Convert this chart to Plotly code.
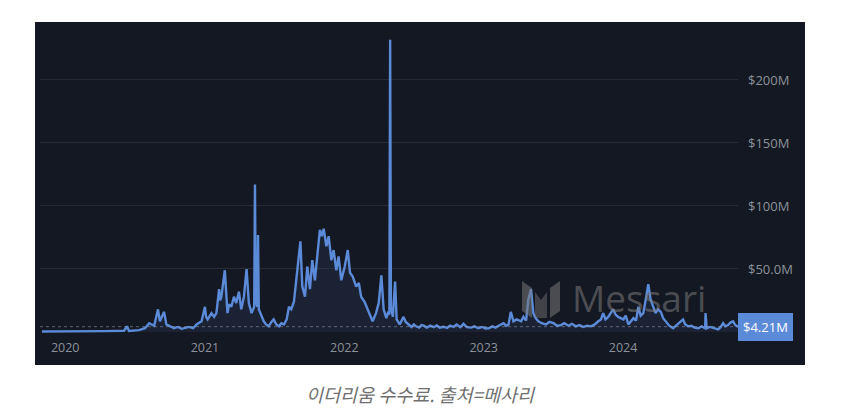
import plotly.graph_objects as go

# ---- data ----
dates = [
    "2019-11-01", "2019-12-16", "2020-02-07", "2020-04-12", "2020-06-03", "2020-06-11",
    "2020-06-16", "2020-07-12", "2020-07-28", "2020-08-08", "2020-08-21", "2020-08-31", "2020-09-05",
    "2020-09-16", "2020-09-22", "2020-10-12", "2020-10-22", "2020-11-01", "2020-11-20", "2020-12-01",
    "2020-12-10", "2020-12-23", "2021-01-01", "2021-01-04", "2021-01-08", "2021-01-18", "2021-01-25",
    "2021-01-31", "2021-02-07", "2021-02-10",
    "2021-02-13", "2021-02-22", "2021-03-01", "2021-03-05", "2021-03-11", "2021-03-18", "2021-03-24",
    "2021-03-31", "2021-04-06", "2021-04-13", "2021-04-20", "2021-04-26", "2021-05-03",
    "2021-05-10", "2021-05-12", "2021-05-14", "2021-05-18", "2021-05-20", "2021-05-22",
    "2021-05-26", "2021-06-04", "2021-06-10", "2021-06-17", "2021-06-24", "2021-06-30", "2021-07-07",
    "2021-07-14", "2021-07-20", "2021-07-27", "2021-08-03",
    "2021-08-09", "2021-08-15", "2021-08-22", "2021-08-28", "2021-09-04", "2021-09-08",
    "2021-09-13", "2021-09-20", "2021-09-26", "2021-10-03", "2021-10-09", "2021-10-16",
    "2021-10-23", "2021-10-29", "2021-11-03", "2021-11-08", "2021-11-15", "2021-11-21",
    "2021-11-28", "2021-12-04", "2021-12-11", "2021-12-17", "2021-12-24", "2022-01-02",
    "2022-01-10", "2022-01-16", "2022-01-23", "2022-02-01", "2022-02-08", "2022-02-14",
    "2022-02-23", "2022-03-06", "2022-03-16", "2022-03-25", "2022-04-01", "2022-04-08",
    "2022-04-14", "2022-04-21", "2022-04-25", "2022-04-29", "2022-05-01", "2022-05-03",
    "2022-05-08", "2022-05-14", "2022-05-18", "2022-05-26", "2022-06-05", "2022-06-11", "2022-06-18",
    "2022-06-26", "2022-07-02", "2022-07-08", "2022-07-16", "2022-07-22", "2022-07-28", "2022-08-05",
    "2022-08-14", "2022-08-23", "2022-08-31", "2022-09-08", "2022-09-18", "2022-09-27", "2022-10-05",
    "2022-10-14", "2022-10-22", "2022-11-01", "2022-11-09", "2022-11-18",
    "2022-11-29", "2022-12-08", "2022-12-18", "2022-12-28", "2023-01-06", "2023-01-14", "2023-01-24",
    "2023-02-01", "2023-02-09", "2023-02-16", "2023-02-22", "2023-03-01", "2023-03-07",
    "2023-03-13", "2023-03-20", "2023-03-28", "2023-04-09", "2023-04-15", "2023-04-22", "2023-04-28", "2023-05-05",
    "2023-05-11", "2023-05-17", "2023-05-24", "2023-06-02", "2023-06-13", "2023-06-22", "2023-07-03", "2023-07-12",
    "2023-07-22", "2023-07-31", "2023-08-11", "2023-08-20",
    "2023-08-30", "2023-09-09", "2023-09-19", "2023-09-29", "2023-10-09", "2023-10-19", "2023-10-28",
    "2023-11-04", "2023-11-10", "2023-11-16", "2023-11-23",
    "2023-12-06", "2023-12-12", "2023-12-19", "2024-01-02", "2024-01-08", "2024-01-15", "2024-01-28",
    "2024-02-04", "2024-02-10", "2024-02-16",
    "2024-02-23", "2024-02-29", "2024-03-07", "2024-03-13", "2024-03-20", "2024-03-26",
    "2024-04-02", "2024-04-09", "2024-04-15", "2024-04-22", "2024-05-01", "2024-05-11", "2024-05-18",
    "2024-05-24", "2024-06-01", "2024-06-06", "2024-06-12", "2024-06-19",
    "2024-06-28", "2024-07-06", "2024-07-16", "2024-07-25", "2024-08-03", "2024-08-04", "2024-08-07",
    "2024-08-16", "2024-08-26", "2024-09-06", "2024-09-13", "2024-09-19",
    "2024-09-25", "2024-10-02", "2024-10-08", "2024-10-15", "2024-10-21", "2024-10-28",
]
fees_musd = [
    0.4, 0.4, 0.5, 0.7, 1.0, 4.5,
    0.9, 1.5, 3.0, 7.0, 5.0, 18.0, 8.5,
    16.0, 6.0, 3.0, 4.0, 2.5, 4.0, 3.0,
    6.0, 8.5, 20.0, 12.0, 10.0, 15.0, 12.0,
    15.0, 34.0, 25.0,
    28.0, 49.0, 15.0, 22.0, 20.0, 28.0, 23.0,
    32.0, 18.0, 28.0, 50.0, 23.0, 15.0,
    20.0, 117.0, 25.0, 20.0, 77.0, 18.0,
    15.0, 8.5, 6.0, 4.5, 8.0, 10.0, 6.0,
    4.5, 7.0, 6.0, 10.0,
    20.0, 18.0, 24.0, 41.0, 63.0, 72.0,
    36.0, 28.0, 52.0, 34.0, 57.0, 41.0,
    63.0, 81.0, 76.0, 82.0, 68.0, 76.0,
    57.0, 65.0, 49.0, 60.0, 41.0, 52.0,
    65.0, 47.0, 44.0, 36.0, 39.0, 28.0,
    24.0, 15.0, 8.5, 15.0, 23.0, 45.0,
    18.0, 11.0, 15.0, 14.0, 232.0, 20.0,
    12.0, 40.0, 10.0, 6.0, 12.0, 8.0, 6.0,
    4.0, 6.0, 4.5, 3.5, 5.5, 5.0, 3.5,
    5.0, 3.8, 5.2, 3.5, 4.2, 3.2, 5.0,
    4.0, 6.0, 3.8, 6.5, 3.8,
    3.5, 4.5, 3.0, 4.0, 2.8, 3.0, 4.5,
    3.5, 5.0, 6.0, 7.0, 5.0, 6.0,
    16.0, 8.5, 10.0, 8.5, 12.0, 9.0, 26.0, 34.0,
    15.0, 11.0, 8.5, 7.0, 6.0, 8.0, 7.0, 5.0,
    5.5, 7.0, 5.0, 6.5,
    4.5, 5.5, 4.0, 5.0, 4.5, 6.0, 8.5,
    10.0, 15.0, 10.0, 12.0,
    18.0, 14.0, 12.0, 10.0, 13.0, 6.0, 11.0,
    9.0, 20.0, 13.0,
    15.0, 25.0, 38.0, 26.0, 20.0, 15.0,
    18.0, 16.0, 11.0, 8.5, 5.0, 3.0, 5.0,
    7.0, 9.0, 10.0, 6.0, 4.5,
    5.0, 3.5, 3.0, 4.5, 3.0, 15.0, 3.0,
    4.0, 3.0, 2.0, 4.0, 7.0,
    4.5, 5.5, 7.5, 8.5, 5.5, 4.21,
]
fees = [v * 1e6 for v in fees_musd]
last_value = fees[-1]
last_label = "$4.21M"

year_ticks = ["2020-01-01", "2021-01-01", "2022-01-01", "2023-01-01", "2024-01-01"]
year_labels = ["2020", "2021", "2022", "2023", "2024"]
y_tickvals = [50e6, 100e6, 150e6, 200e6]
y_ticktext = ["$50.0M", "$100M", "$150M", "$200M"]
caption = "이더리움 수수료. 출처=메사리"

# ---- styling ----
OFF = 8                                  # page body margin
W, H = 865 - OFF, 416 - OFF
L, R, T, B = 40 - OFF, 738 - OFF, 22 - OFF, 338 - OFF   # plot area in figure pixels
BG = "#141822"
LINE = "#5b8bd8"
GRID = "#262b36"
TXT = "#8c919b"


def px(x):
    """screen x pixel -> paper coordinate"""
    return (x - OFF - L) / (R - L)


def py(y):
    """screen y pixel -> paper coordinate"""
    return (B - (y - OFF)) / (B - T)


fig = go.Figure()
fig.add_trace(go.Scatter(
    x=dates, y=fees, mode="lines",
    line=dict(color=LINE, width=2.4),
    fill="tozeroy", fillcolor="rgba(80,120,200,0.11)",
    hoverinfo="skip", showlegend=False,
))

shapes = [
    # dark panel
    dict(type="rect", xref="paper", yref="paper", layer="below",
         x0=px(35), x1=px(805), y0=py(365), y1=py(22),
         fillcolor=BG, line=dict(width=0)),
    # dotted last-value line
    dict(type="line", xref="paper", yref="y", x0=0, x1=1.0,
         y0=last_value, y1=last_value,
         line=dict(color="rgba(150,160,180,0.55)", width=1, dash="dot")),
    # Messari logo (watermark)
    dict(type="path", xref="paper", yref="paper", layer="above",
         path=f"M {px(522)},{py(281)} L {px(532)},{py(288)} L {px(532)},{py(318)} L {px(522)},{py(311)} Z",
         fillcolor="rgba(120,120,120,0.55)", line=dict(width=0)),
    dict(type="path", xref="paper", yref="paper", layer="above",
         path=f"M {px(560)},{py(281)} L {px(550)},{py(288)} L {px(550)},{py(318)} L {px(560)},{py(311)} Z",
         fillcolor="rgba(120,120,120,0.55)", line=dict(width=0)),
    dict(type="path", xref="paper", yref="paper", layer="above",
         path=f"M {px(535)},{py(292)} L {px(541)},{py(300)} L {px(547)},{py(292)} L {px(547)},{py(318)} L {px(535)},{py(318)} Z",
         fillcolor="rgba(120,120,120,0.45)", line=dict(width=0)),
]

annotations = [
    dict(text="Messari", xref="paper", yref="paper", x=px(570), y=py(297),
         xanchor="left", yanchor="middle", showarrow=False,
         font=dict(family="Open Sans, sans-serif", size=37, color="rgba(125,125,125,0.55)")),
    dict(text=last_label, xref="paper", yref="y", x=1.0, y=last_value,
         xanchor="left", yanchor="middle", showarrow=False, xshift=0,
         bgcolor=LINE, borderpad=4, bordercolor=LINE,
         font=dict(family="Open Sans, sans-serif", size=13, color="white")),
    dict(text=caption, xref="paper", yref="paper", x=px(421), y=py(394),
         xanchor="center", yanchor="middle", showarrow=False,
         font=dict(family="Noto Sans CJK KR", size=18.5, color="#707070", style="italic")),
]

fig.update_layout(
    width=W, height=H,
    margin=dict(l=L, r=W - R, t=T, b=H - B, pad=0),
    paper_bgcolor="white", plot_bgcolor=BG,
    shapes=shapes, annotations=annotations,
    font=dict(family="Open Sans, sans-serif", color=TXT, size=12),
    xaxis=dict(
        type="date", range=["2019-10-27", "2024-10-28"],
        tickvals=year_ticks, ticktext=year_labels,
        showgrid=False, zeroline=False, showline=False, ticks="",
        tickfont=dict(size=12.5, color=TXT),
    ),
    yaxis=dict(
        side="right", range=[-4.76e6, 246e6],
        tickvals=y_tickvals, ticktext=y_ticktext,
        showgrid=True, gridcolor=GRID, gridwidth=1,
        zeroline=False, showline=False, ticks="",
        ticklabelstandoff=9,
        tickfont=dict(size=13, color=TXT),
    ),
)

fig.write_html("out.html")
